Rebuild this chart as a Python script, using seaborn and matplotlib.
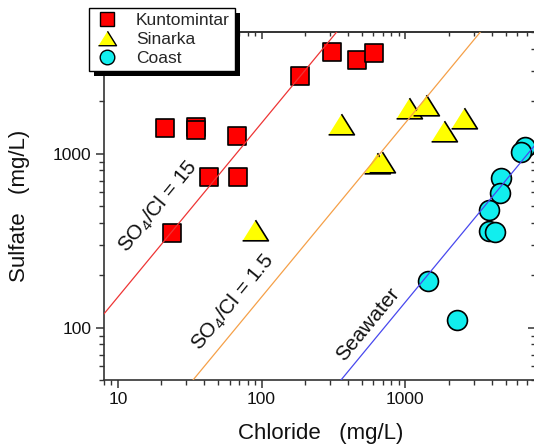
import numpy as np
import matplotlib
matplotlib.use("Agg")
import matplotlib.pyplot as plt
import seaborn as sns
from matplotlib.lines import Line2D
from matplotlib.patches import Rectangle
from matplotlib.ticker import LogLocator, NullFormatter, FixedLocator, FixedFormatter

# ---- data (mg/L) ----
kunto_cl = [21.2, 34.9, 34.9, 67.9, 43.0, 68.0, 23.9, 184, 311, 464, 609]
kunto_so4 = [1409, 1428, 1373, 1260, 738, 738, 350, 2800, 3840, 3460, 3770]

sinarka_cl = [89.8, 356, 1068, 1403, 1858, 2558, 640, 687]
sinarka_so4 = [362, 1486, 1824, 1909, 1355, 1608, 888, 893]

coast_cl = [6870, 6405, 4650, 4575, 3837, 3837, 4203, 1430, 2297]
coast_so4 = [1092, 1023, 725, 592, 477, 359, 356, 185, 111]

# SO4/Cl reference ratios
ratio_values = [15, 1.5, 0.14]
ratio_labels = [r"SO$_4$/Cl = 15", r"SO$_4$/Cl = 1.5", "Seawater"]
ratio_colors = ["#ee3535", "#f5a048", "#4848ee"]
ratio_label_pos = [(19.0, 497), (63.0, 140), (549, 104.7)]
cl_range = np.array([1.0, 1.0e5])

x_ticks = [10, 100, 1000]
x_ticklabels = ["10", "100", "1000"]
y_ticks = [100, 1000]
y_ticklabels = ["100", "1000"]

sns.set_theme(style="white")
plt.rcParams["font.family"] = ["Liberation Sans", "DejaVu Sans"]
plt.rcParams["mathtext.fontset"] = "custom"
plt.rcParams["mathtext.rm"] = "Liberation Sans"
plt.rcParams["mathtext.it"] = "Liberation Sans"

W, H = 534, 447
fig = plt.figure(figsize=(W / 100, H / 100), dpi=100)
ax = fig.add_axes([104 / W, 67 / H, 431 / W, 348 / H])
ax.set_xscale("log")
ax.set_yscale("log")
ax.set_xlim(8, 8000)
ax.set_ylim(50, 5000)

# reference lines
for r, c in zip(ratio_values, ratio_colors):
    ax.plot(cl_range, r * cl_range, color=c, lw=0.9, zorder=4)

# samples
mk_kw = dict(edgecolor="black", linewidth=1.2, ax=ax, zorder=3, legend=False)
tri = [(-1, -0.8), (1, -0.8), (0, 0.8)]
sns.scatterplot(x=kunto_cl, y=kunto_so4, marker="s", s=172, color="#ff0000", **mk_kw)
sns.scatterplot(x=sinarka_cl, y=sinarka_so4, marker=tri, s=345, color="#ffff00", **mk_kw)
sns.scatterplot(x=coast_cl, y=coast_so4, marker="o", s=205, color="#11eeee", **mk_kw)

# line labels
for (tx, ty), txt in zip(ratio_label_pos, ratio_labels):
    ax.text(tx, ty, txt, rotation=50.5, ha="center", va="center",
            rotation_mode="anchor", fontsize=15, color="#111111", zorder=5)

# axes styling
spine_c = "#333333"
for sp in ax.spines.values():
    sp.set_color(spine_c)
    sp.set_linewidth(1.2)

ax.xaxis.set_major_locator(FixedLocator(x_ticks))
ax.xaxis.set_major_formatter(FixedFormatter(x_ticklabels))
ax.yaxis.set_major_locator(FixedLocator(y_ticks))
ax.yaxis.set_major_formatter(FixedFormatter(y_ticklabels))
for axis in (ax.xaxis, ax.yaxis):
    axis.set_minor_locator(LogLocator(base=10, subs=np.arange(2, 10)))
    axis.set_minor_formatter(NullFormatter())
ax.tick_params(which="major", direction="out", length=6, width=1.1, color=spine_c,
               labelsize=12.5, labelcolor="#111111", pad=3,
               bottom=True, left=True, top=False, right=False)
ax.tick_params(which="minor", direction="out", length=3.5, width=1.0, color=spine_c,
               bottom=True, left=True, top=False, right=False)

# inward ticks on top and right, no labels
sec_x = ax.secondary_xaxis("top")
sec_y = ax.secondary_yaxis("right")
for sec, axis, major in ((sec_x, sec_x.xaxis, x_ticks), (sec_y, sec_y.yaxis, y_ticks)):
    axis.set_major_locator(FixedLocator(major))
    axis.set_minor_locator(LogLocator(base=10, subs=np.arange(2, 10)))
    axis.set_major_formatter(NullFormatter())
    axis.set_minor_formatter(NullFormatter())
    sec.tick_params(which="major", direction="in", length=5, width=1.1, color=spine_c)
    sec.tick_params(which="minor", direction="in", length=3, width=1.0, color=spine_c)
    for sp in sec.spines.values():
        sp.set_color(spine_c)
        sp.set_linewidth(1.2)

# axis titles
fig.text(320.5 / W, 1 - 433 / H, "Chloride   (mg/L)", ha="center", va="center",
         fontsize=16, color="#111111")
fig.text(19.5 / W, 1 - 206 / H, "Sulfate   (mg/L)", ha="center", va="center",
         rotation=90, fontsize=16, color="#111111")

# legend with a solid drop shadow
handles = [
    Line2D([], [], ls="none", marker="s", ms=10, mfc="#ff0000", mec="black", mew=1.0),
    Line2D([], [], ls="none", marker=tri, ms=13, mfc="#ffff00", mec="black", mew=1.0),
    Line2D([], [], ls="none", marker="o", ms=10.5, mfc="#11eeee", mec="black", mew=1.0),
]
leg = fig.legend(handles, ["Kuntomintar", "Sinarka", "Coast"], loc="upper left",
                 bbox_to_anchor=(89 / W, 1 - 8 / H), borderaxespad=0, fontsize=12.5,
                 frameon=True, fancybox=False, edgecolor="black", framealpha=1,
                 labelspacing=0.2, borderpad=0.3, handletextpad=0.9, handlelength=1.5)
leg.get_frame().set_linewidth(1.0)
leg.set_zorder(10)
fig.canvas.draw()
bb = leg.get_window_extent()
shadow = Rectangle((bb.x0 + 5, bb.y0 - 5), bb.width, bb.height, transform=None,
                   facecolor="black", edgecolor="none", zorder=9)
fig.add_artist(shadow)

fig.savefig("out.png", dpi=100)
